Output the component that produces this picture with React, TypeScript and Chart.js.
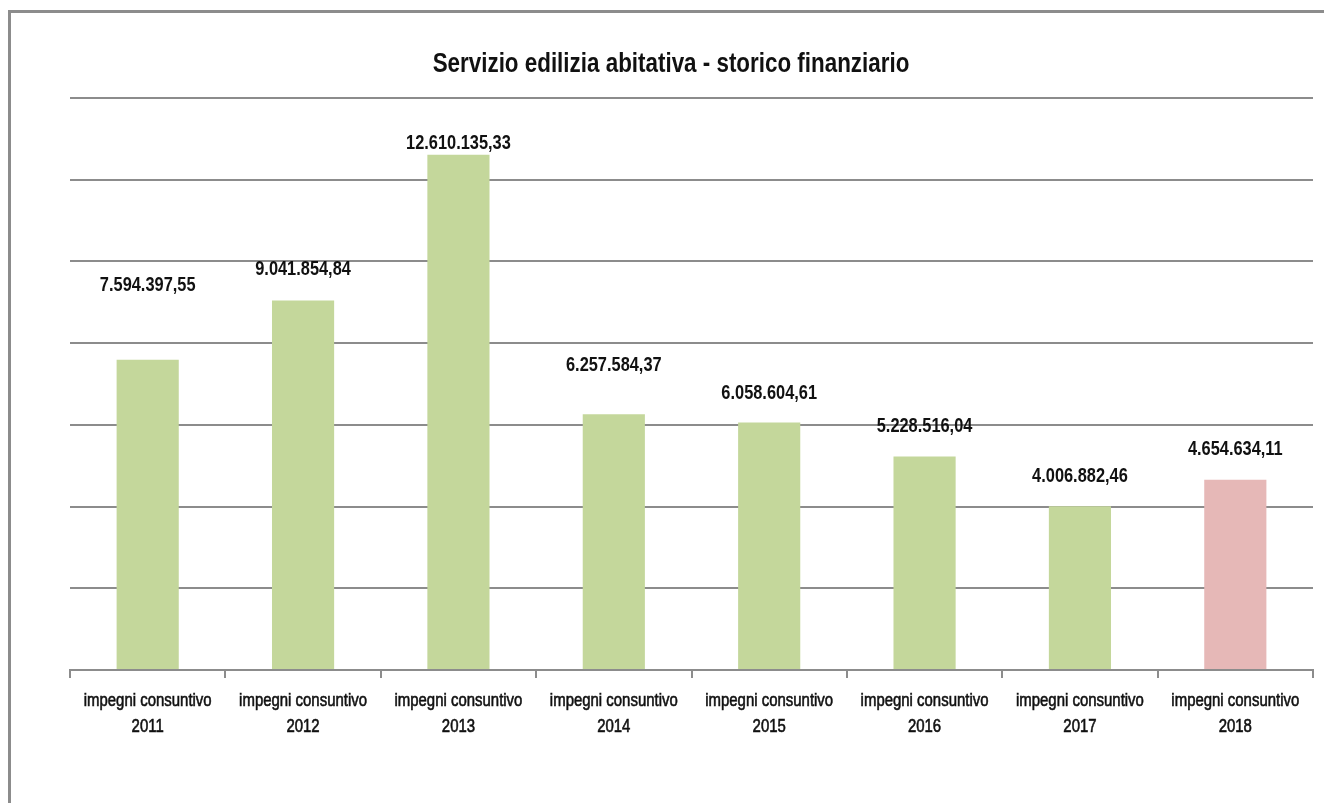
import React, { useEffect, useRef } from "react";
import { Chart, registerables } from "chart.js";

Chart.register(...registerables);

const TITLE = "Servizio edilizia abitativa - storico finanziario";
const CATEGORY_PREFIX = "impegni consuntivo";
const YEARS = ["2011", "2012", "2013", "2014", "2015", "2016", "2017", "2018"];
const VALUES = [
  7594397.55, 9041854.84, 12610135.33, 6257584.37, 6058604.61, 5228516.04,
  4006882.46, 4654634.11,
];
const Y_MIN = 0;
const Y_MAX = 14000000;
const Y_STEP = 2000000;

// styling
const GREEN = "#c4d79b";
const PINK = "#e6b8b7";
const BAR_COLORS = [GREEN, GREEN, GREEN, GREEN, GREEN, GREEN, GREEN, PINK];
// distance (px) from the bar top to the centre of its value label, as placed in the reference
const LABEL_LIFT = [75, 31, 12, 49, 29, 30, 30, 31];
const FONT = '"Liberation Sans", Arial, sans-serif';
const GRID = "#8c8c8c";
const TEXT = "#111111";

function formatIt(v: number): string {
  const [intPart, dec] = v.toFixed(2).split(".");
  const withDots = intPart.replace(/\B(?=(\d{3})+(?!\d))/g, ".");
  return withDots + "," + dec;
}

function narrowText(
  ctx: CanvasRenderingContext2D,
  text: string,
  x: number,
  y: number,
  sx: number,
  thicken = 0
) {
  ctx.save();
  ctx.translate(x, y);
  ctx.scale(sx, 1);
  ctx.fillText(text, 0, 0);
  if (thicken > 0) {
    ctx.lineWidth = thicken;
    ctx.strokeStyle = TEXT;
    ctx.strokeText(text, 0, 0);
  }
  ctx.restore();
}

const decorPlugin = {
  id: "decor",
  beforeDraw(chart: any) {
    const ctx = chart.ctx;
    ctx.save();
    ctx.fillStyle = "#ffffff";
    ctx.fillRect(0, 0, chart.width, chart.height);
    ctx.fillStyle = GRID;
    ctx.fillRect(8, 10, chart.width - 8, 3);
    ctx.fillRect(8, 10, 3, chart.height - 10);
    ctx.restore();
  },
  afterDatasetsDraw(chart: any) {
    const ctx = chart.ctx;
    const meta = chart.getDatasetMeta(0);
    ctx.save();
    ctx.font = `bold 21px ${FONT}`;
    ctx.fillStyle = TEXT;
    ctx.textAlign = "center";
    ctx.textBaseline = "middle";
    meta.data.forEach((bar: any, i: number) => {
      narrowText(ctx, formatIt(VALUES[i]), bar.x, bar.y - LABEL_LIFT[i], 0.78);
    });
    ctx.restore();
  },
  afterDraw(chart: any) {
    const ctx = chart.ctx;
    const xs = chart.scales.x;
    ctx.save();
    ctx.fillStyle = TEXT;
    ctx.textAlign = "center";
    ctx.textBaseline = "middle";
    // category labels (two lines) under the axis
    ctx.font = `18px ${FONT}`;
    YEARS.forEach((y, i) => {
      const x = xs.getPixelForValue(i);
      narrowText(ctx, CATEGORY_PREFIX, x, xs.top + 31, 0.83, 0.6);
      narrowText(ctx, y, x, xs.top + 57, 0.83, 0.6);
    });
    // title
    ctx.font = `bold 28px ${FONT}`;
    narrowText(ctx, TITLE, 671, 64, 0.8);
    ctx.restore();
  },
};

export default function App() {
  const ref = useRef<HTMLCanvasElement | null>(null);

  useEffect(() => {
    if (!ref.current) return;
    const chart = new Chart(ref.current, {
      type: "bar",
      data: {
        labels: YEARS.map((y) => [CATEGORY_PREFIX, y]),
        datasets: [
          {
            data: VALUES,
            backgroundColor: BAR_COLORS,
            borderWidth: 0,
            categoryPercentage: 1,
            barPercentage: 0.4,
          },
        ],
      },
      options: {
        animation: false,
        responsive: false,
        devicePixelRatio: 1,
        layout: { padding: { top: 98, left: 70, right: 11, bottom: 0 } },
        plugins: {
          legend: { display: false },
          title: { display: false },
          tooltip: { enabled: false },
        },
        scales: {
          x: {
            type: "category",
            grid: {
              display: true,
              drawOnChartArea: false,
              drawTicks: true,
              tickLength: 8,
              color: GRID,
              lineWidth: 2,
              offset: true,
            },
            border: { display: true, color: GRID, width: 2 },
            ticks: { display: false, autoSkip: false, maxRotation: 0 },
            afterFit: (s: any) => {
              s.height = 133;
            },
          },
          y: {
            min: Y_MIN,
            max: Y_MAX,
            ticks: { display: false, stepSize: Y_STEP },
            grid: { color: GRID, lineWidth: 2, drawTicks: false },
            border: { display: false },
            afterFit: (s: any) => {
              s.width = 0;
            },
          },
        },
      },
      plugins: [decorPlugin],
    });
    return () => chart.destroy();
  }, []);

  return (
    <div style={{ position: "fixed", left: 0, top: 0, width: 1324, height: 803 }}>
      <canvas ref={ref} width={1324} height={803} style={{ display: "block" }} />
    </div>
  );
}
